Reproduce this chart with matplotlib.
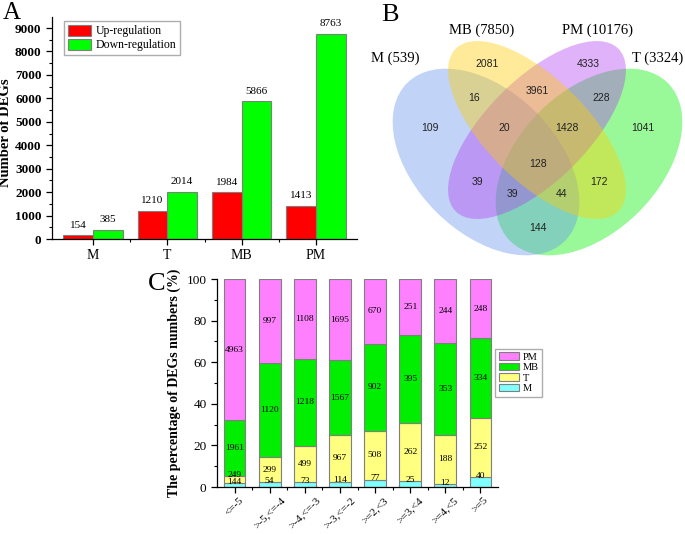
import matplotlib
matplotlib.use("Agg")
import matplotlib.pyplot as plt
from matplotlib.patches import Ellipse
import numpy as np

plt.rcParams['font.family'] = ['Liberation Serif', 'DejaVu Serif']
plt.rcParams['axes.linewidth'] = 0.9

# panel A data
groups = ['M', 'T', 'MB', 'PM']
up_counts = [154, 1210, 1984, 1413]
down_counts = [385, 2014, 5866, 8763]

# panel B data
venn_sets = ['M', 'MB', 'PM', 'T']
venn_totals = [539, 7850, 10176, 3324]
venn_counts = [109, 2081, 4333, 1041, 16, 3961, 228, 20, 1428, 128, 39, 39, 44, 172, 144]

# panel C data
bins = ['<=-5', '>-5,<=-4', '>-4,<=-3', '>-3,<=-2', '>=2,<3', '>=3,<4', '>=4,<5', '>=5']
m_cnt = [144, 54, 73, 114, 77, 25, 12, 40]
t_cnt = [249, 299, 499, 967, 508, 262, 188, 252]
mb_cnt = [1961, 1120, 1218, 1567, 902, 395, 353, 334]
pm_cnt = [4963, 997, 1108, 1695, 670, 251, 244, 248]

W, H = 685, 534
fig = plt.figure(figsize=(W / 100, H / 100), dpi=100)

def px_axes(x0, y0, x1, y1):
    # rectangle given in picture pixels (top-left origin)
    return fig.add_axes([x0 / W, 1 - y1 / H, (x1 - x0) / W, (y1 - y0) / H])

# ---------- A ----------
axA = px_axes(52, 17, 357, 239)
x = np.arange(len(groups))
bw = 0.4
edge = '#7f7f7f'
b1 = axA.bar(x - bw / 2, up_counts, bw, color='#ff0000', edgecolor=edge, linewidth=0.8, label='Up-regulation')
b2 = axA.bar(x + bw / 2, down_counts, bw, color='#00ff00', edgecolor=edge, linewidth=0.8, label='Down-regulation')
for bars in (b1, b2):
    for r in bars:
        axA.annotate(str(int(r.get_height())), (r.get_x() + r.get_width() / 2, r.get_height()),
                     xytext=(0, 4), textcoords='offset points', ha='center', va='bottom', fontsize=8)
axA.set_xlim(-0.55, 3.55)
axA.set_ylim(0, 9470)
axA.set_yticks(range(0, 9001, 1000))
axA.set_yticks(range(500, 9470, 500), minor=True)
axA.set_xticks(x)
axA.set_xticks(x[:-1] + 0.5, minor=True)
axA.set_xticklabels(groups, fontsize=10)
for t in axA.get_yticklabels():
    t.set_fontsize(9.5)
    t.set_fontweight('bold')
axA.tick_params(which='major', length=4, width=0.9)
axA.tick_params(which='minor', length=2, width=0.8)
axA.set_ylabel('Number of DEGs', fontsize=10.5, fontweight='bold')
axA.yaxis.set_label_coords(-0.13, 0.48)
for s in ('top', 'right'):
    axA.spines[s].set_visible(False)
axA.legend(loc='upper left', bbox_to_anchor=(0.04, 0.98), fontsize=8.5, frameon=True, fancybox=False,
           edgecolor='#999999', borderpad=0.3, handlelength=2.0, handleheight=1.0, handletextpad=0.4,
           labelspacing=0.15, borderaxespad=0)

# ---------- B ----------
axB = px_axes(345, 0, 685, 270)
axB.set_xlim(345, 685)
axB.set_ylim(270, 0)
axB.axis('off')
# ellipse layout: centre, semi axes, angle (drawing order green, blue, purple, yellow)
shapes = {
    'T': ((589, 162), 111.6, 70.5, -45, '#00f000'),
    'M': ((486, 162), 111.6, 70.5, 45, '#6495ed'),
    'PM': ((537, 130), 115, 51, -45, '#b040f0'),
    'MB': ((537, 130), 115, 51, 45, '#ffcc00'),
}
for key in ['T', 'M', 'PM', 'MB']:
    c, a, b, ang, col = shapes[key]
    axB.add_patch(Ellipse(c, 2 * a, 2 * b, angle=ang, facecolor=col, alpha=0.4, edgecolor='none'))
region_xy = [(430, 128), (487, 64), (588, 64), (643, 128), (474, 98), (537, 91), (601, 98),
             (504, 128), (567, 128), (538, 164), (477, 182), (512, 194), (562, 194), (599, 182), (538, 228)]
for n, (px, py) in zip(venn_counts, region_xy):
    axB.text(px, py, str(n), ha='center', va='center', fontsize=7.5, family=['Liberation Sans'], color='#222222')
label_xy = [(395, 58), (482, 30), (598, 30), (658, 58)]
for name, tot, (px, py) in zip(venn_sets, venn_totals, label_xy):
    axB.text(px, py, '{} ({})'.format(name, tot), ha='center', va='center', fontsize=10.5)

# ---------- C ----------
axC = px_axes(217, 279, 498, 487)
xc = np.arange(len(bins))
totals = np.array(m_cnt) + np.array(t_cnt) + np.array(mb_cnt) + np.array(pm_cnt)
series = [('M', m_cnt, '#80ffff'), ('T', t_cnt, '#ffff80'), ('MB', mb_cnt, '#00ee00'), ('PM', pm_cnt, '#ff80ff')]
bottom = np.zeros(len(bins))
handles = {}
for name, cnt, col in series:
    pct = np.array(cnt) / totals * 100
    h = axC.bar(xc, pct, 0.62, bottom=bottom, color=col, edgecolor=edge, linewidth=0.8, label=name)
    handles[name] = h
    for i in range(len(bins)):
        top = bottom[i] + pct[i]
        yy = bottom[i] + pct[i] / 2 if pct[i] >= 6 else top + 0.6
        axC.text(xc[i], yy, str(cnt[i]), ha='center', va='center', fontsize=6.8)
    bottom = bottom + pct
axC.set_xlim(-0.5, 7.5)
axC.set_ylim(0, 100)
axC.set_yticks(range(0, 101, 20))
axC.set_yticks(range(10, 100, 20), minor=True)
axC.set_xticks(xc)
axC.set_xticks(xc[:-1] + 0.5, minor=True)
axC.set_xticklabels(bins, rotation=45, ha='center', va='top', fontsize=8)
axC.tick_params(axis='x', pad=2)
axC.tick_params(axis='y', labelsize=9.5)
axC.tick_params(which='major', length=4, width=0.9)
axC.tick_params(which='minor', length=2, width=0.8)
axC.set_ylabel('The percentage of DEGs numbers (%)', fontsize=10, fontweight='bold', labelpad=4)
for s in ('top', 'right'):
    axC.spines[s].set_visible(False)
axC.legend([handles[k] for k in ['PM', 'MB', 'T', 'M']], ['PM', 'MB', 'T', 'M'], loc='upper left',
           bbox_to_anchor=(0.99, 0.665), borderaxespad=0, fontsize=7.5, frameon=True, fancybox=False,
           edgecolor='#999999', borderpad=0.35, handlelength=1.9, handleheight=0.75, handletextpad=0.4,
           labelspacing=0.1)

# panel letters
fig.text(12 / W, 1 - 13 / H, 'A', fontsize=18, ha='center', va='center')
fig.text(390 / W, 1 - 15 / H, 'B', fontsize=19, ha='center', va='center')
fig.text(157 / W, 1 - 284 / H, 'C', fontsize=19, ha='center', va='center')

fig.savefig('out.png', dpi=100)
